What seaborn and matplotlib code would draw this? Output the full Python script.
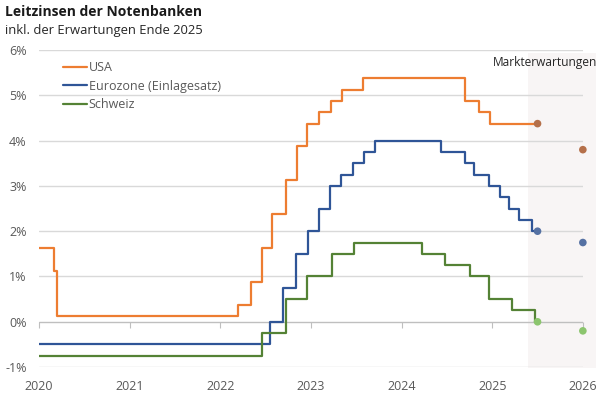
import matplotlib
matplotlib.use("Agg")
import matplotlib.pyplot as plt
import seaborn as sns, numpy as np, pandas as pd
from matplotlib.patches import Rectangle

###

usa_dates = [2020.0, 2020.17, 2020.20, 2022.20, 2022.34, 2022.46, 2022.57, 2022.73, 2022.85, 2022.96,
             2023.09, 2023.22, 2023.34, 2023.57, 2024.70, 2024.85, 2024.97, 2025.50]
usa_rates = [1.625, 1.125, 0.125, 0.375, 0.875, 1.625, 2.375, 3.125, 3.875, 4.375,
             4.625, 4.875, 5.125, 5.375, 4.875, 4.625, 4.375, 4.375]

ez_dates = [2020.0, 2022.55, 2022.69, 2022.83, 2022.97, 2023.09, 2023.21, 2023.33, 2023.46, 2023.58,
            2023.71, 2024.44, 2024.70, 2024.80, 2024.96, 2025.09, 2025.18, 2025.30, 2025.44, 2025.50]
ez_rates = [-0.5, 0.0, 0.75, 1.5, 2.0, 2.5, 3.0, 3.25, 3.5, 3.75,
            4.0, 3.75, 3.5, 3.25, 3.0, 2.75, 2.5, 2.25, 2.0, 2.0]

ch_dates = [2020.0, 2022.46, 2022.73, 2022.96, 2023.23, 2023.48, 2024.23, 2024.48, 2024.75, 2024.96,
            2025.22, 2025.47, 2025.50]
ch_rates = [-0.75, -0.25, 0.5, 1.0, 1.5, 1.75, 1.5, 1.25, 1.0, 0.5, 0.25, 0.0, 0.0]

series_names = ['USA', 'Eurozone (Einlagesatz)', 'Schweiz']
line_colors = ['#ED7D31', '#2F5597', '#548235']
dot_colors = ['#B5704A', '#5571A3', '#8CC56E']

# Markterwartungen: aktueller Stand (Mitte 2025) und Erwartung Ende 2025
exp_dates = [2025.5, 2026.0]
usa_exp = [4.375, 3.8]
ez_exp = [2.0, 1.75]
ch_exp = [0.0, -0.2]

year_ticks = [2020, 2021, 2022, 2023, 2024, 2025, 2026]
pct_ticks = [-1, 0, 1, 2, 3, 4, 5, 6]

###

sns.set_style('white')
plt.rcParams['font.family'] = ['Open Sans', 'DejaVu Sans']

df = pd.concat([
    pd.DataFrame({'date': usa_dates, 'rate': usa_rates, 'series': series_names[0]}),
    pd.DataFrame({'date': ez_dates, 'rate': ez_rates, 'series': series_names[1]}),
    pd.DataFrame({'date': ch_dates, 'rate': ch_rates, 'series': series_names[2]}),
])
df_exp = pd.concat([
    pd.DataFrame({'date': exp_dates, 'rate': usa_exp, 'series': series_names[0]}),
    pd.DataFrame({'date': exp_dates, 'rate': ez_exp, 'series': series_names[1]}),
    pd.DataFrame({'date': exp_dates, 'rate': ch_exp, 'series': series_names[2]}),
])

fig = plt.figure(figsize=(6.04, 4.12), dpi=100)
ax = fig.add_axes([0.0646, 0.109, 0.9004, 0.7696])

# shaded forecast region
ax.add_patch(Rectangle((2025.40, -1.02), 0.75, 6.95, facecolor='#F8F5F5', edgecolor='none',
                       zorder=0, clip_on=False))

for y in pct_ticks:
    if y != 0:
        ax.axhline(y, color='#D9D9D9', lw=1, zorder=1)
ax.axhline(0, color='#BFBFBF', lw=1, zorder=1)

sns.lineplot(data=df, x='date', y='rate', hue='series', palette=dict(zip(series_names, line_colors)),
             estimator=None, sort=False, drawstyle='steps-post', lw=1.6, ax=ax, zorder=3)
sns.scatterplot(data=df_exp, x='date', y='rate', hue='series', palette=dict(zip(series_names, dot_colors)),
                s=30, edgecolor='none', legend=False, ax=ax, zorder=4, clip_on=False)

ax.set_xlim(2020, 2026)
ax.set_ylim(-1, 6)
ax.set_xticks(year_ticks, [str(t) for t in year_ticks])
ax.set_yticks(pct_ticks, [f'{t}%' for t in pct_ticks])
ax.tick_params(axis='both', length=0, labelsize=9, labelcolor='#595959')
ax.tick_params(axis='x', pad=9)
ax.tick_params(axis='y', pad=9)
for s in ax.spines.values():
    s.set_visible(False)
ax.set_xlabel('')
ax.set_ylabel('')

# tick marks on the zero line
sec = ax.secondary_xaxis(1 / 7)
sec.set_xticks(year_ticks, [''] * len(year_ticks))
sec.xaxis.set_ticks_position('bottom')
sec.tick_params(length=4, color='#BFBFBF', direction='out', labelbottom=False, labeltop=False)
sec.spines['bottom'].set_visible(False)
sec.spines['top'].set_visible(False)

leg = ax.legend(loc='upper left', bbox_to_anchor=(0.044, 0.965), frameon=False, fontsize=9,
                handlelength=1.9, handletextpad=0.15, labelspacing=0.45, borderaxespad=0,
                borderpad=0)
for t in leg.get_texts():
    t.set_color('#595959')

ax.text(1.026, 0.962, 'Markterwartungen', transform=ax.transAxes, ha='right', va='center',
        fontsize=8.6, color='#262626', clip_on=False)

fig.text(0.008, 0.970, 'Leitzinsen der Notenbanken', fontsize=10, fontweight='bold', color='#1a1a1a',
         ha='left', va='center')
fig.text(0.008, 0.926, 'inkl. der Erwartungen Ende 2025', fontsize=9.4, color='#262626',
         ha='left', va='center')

fig.savefig('out.png', dpi=100)
